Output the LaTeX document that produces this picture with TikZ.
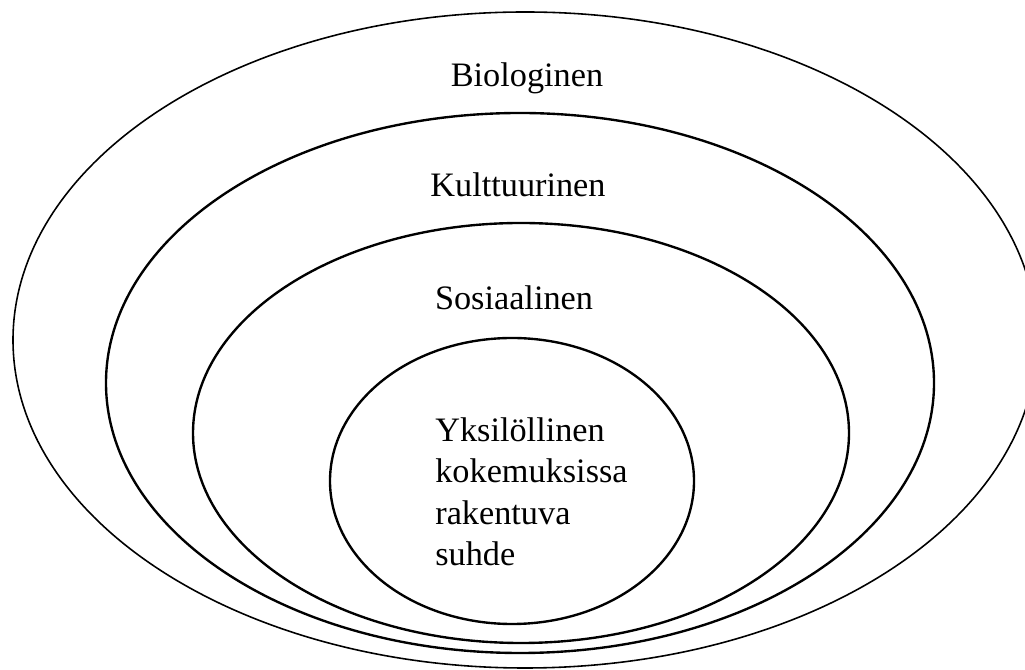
\documentclass[tikz,border=0pt]{standalone}
\usepackage{fontspec}
\setmainfont{Liberation Serif}
\usepackage{tikz}

\tikzset{
  ring/.style={line width=1.35pt},
  outerring/.style={line width=.9pt},
  level/.style={anchor=base,inner sep=0pt,font=\fontsize{19.5}{23.6}\selectfont}
}

\begin{document}
\begin{tikzpicture}
\useasboundingbox (0,0) rectangle (20.5,13.4);
\draw[outerring]
    (10.5 , 6.6 ) ellipse [x radius=10.24, y radius=6.56];
\draw[ring]
    (10.4 , 5.74) ellipse [x radius= 8.28, y radius=5.4 ];
\draw[ring]
    (10.42, 4.74) ellipse [x radius= 6.56, y radius=4.2 ];
\draw[ring]
    (10.24, 3.78) ellipse [x radius= 3.64, y radius=2.86];

\node [level] (biologinen)     at (10.54,11.66) {Biologinen};
\node [level] (kulttuurinen)   at (10.36, 9.46) {Kulttuurinen};
\node [level] (sosiaalinen)    at (10.28, 7.2 ) {Sosiaalinen};
\node [level,anchor=north west,align=left] (yksilollinen)
    at (8.7, 5.06) {Yksilöllinen\\kokemuksissa\\rakentuva\\suhde};
\end{tikzpicture}
\end{document}
